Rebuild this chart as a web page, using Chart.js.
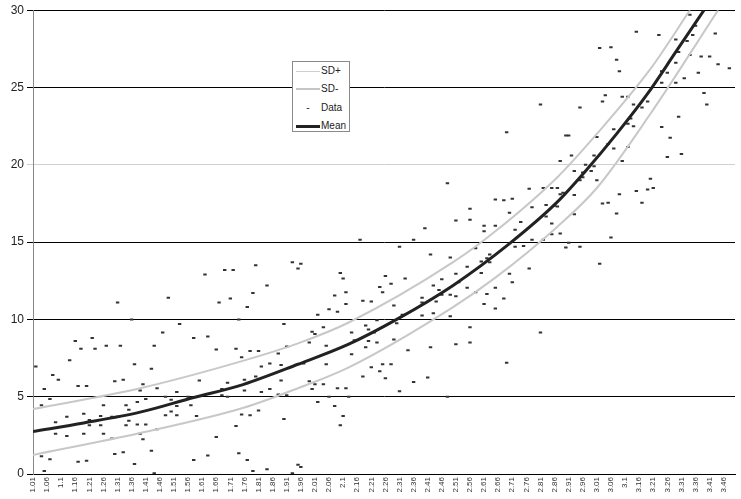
<!DOCTYPE html>
<html>
<head>
<meta charset="utf-8">
<script src="https://cdn.jsdelivr.net/npm/chart.js@4.4.0/dist/chart.umd.min.js"></script>
<style>
  html, body { margin: 0; padding: 0; background: #fff; }
  #wrap { position: relative; width: 741px; height: 499px; }
  #legend { position: absolute; left: 292px; top: 61px; width: 56px; height: 69px;
    border: 1px solid #8a8a8a; background: #fff;
    font: 10px "Liberation Sans", Arial, sans-serif; color: #222; }
  .row { position: absolute; left: 0; width: 56px; height: 12px; line-height: 12px; }
  .sw { position: absolute; left: 3px; width: 24px; top: 6px; }
  .lb { position: absolute; left: 28px; white-space: nowrap; }
</style>
</head>
<body>
<div id="wrap">
  <canvas id="myChart" width="741" height="499"></canvas>
  <div id="legend">
    <div class="row" style="top:3px"><span class="sw" style="border-top:1px solid #cfcfcf"></span><span class="lb">SD+</span></div>
    <div class="row" style="top:21px"><span class="sw" style="border-top:2px solid #c6c6c6;top:5px"></span><span class="lb">SD-</span></div>
    <div class="row" style="top:40px"><span class="sw" style="text-align:center;top:0">-</span><span class="lb">Data</span></div>
    <div class="row" style="top:58px"><span class="sw" style="border-top:3px solid #222;top:5px"></span><span class="lb">Mean</span></div>
  </div>
</div>
<script>
// x axis tick positions and the labels shown under them
const tickValues = [1.01,1.06,1.11,1.16,1.21,1.26,1.31,1.36,1.41,1.46,1.51,1.56,1.61,1.66,1.71,1.76,1.81,1.86,1.91,1.96,
  2.01,2.06,2.11,2.16,2.21,2.26,2.31,2.36,2.41,2.46,2.51,2.56,2.61,2.66,2.71,2.76,2.81,2.86,2.91,2.96,
  3.01,3.06,3.11,3.16,3.21,3.26,3.31,3.36,3.41,3.46];
const tickLabels = ['1.01','1.06','1.1','1.16','1.21','1.26','1.31','1.36','1.41','1.46','1.51','1.56','1.61','1.66','1.71','1.76','1.81','1.86','1.91','1.96',
  '2.01','2.06','2.1','2.16','2.21','2.26','2.31','2.36','2.41','2.46','2.51','2.56','2.61','2.66','2.71','2.76','2.81','2.86','2.91','2.96',
  '3.01','3.06','3.1','3.16','3.21','3.26','3.31','3.36','3.41','3.46'];

// fitted curves
const meanX = [1.01,1.19,1.39,1.58,1.74,1.95,2.13,2.30,2.50,2.70,2.87,2.97,3.08,3.19,3.29,3.39];
const meanY = [2.75,3.3,4.0,4.95,5.7,7.1,8.4,10.0,12.2,14.9,17.6,19.6,22.0,24.6,27.3,30.0];
const sdPlusX = [1.01,1.39,1.76,1.95,2.13,2.50,2.65,2.87,3.01,3.20,3.34];
const sdPlusY = [4.2,5.55,7.35,8.45,9.8,13.7,15.7,19.2,22.0,26.2,30.0];
const sdMinusX = [1.01,1.39,1.76,1.95,2.13,2.50,2.65,2.87,3.01,3.20,3.44];
const sdMinusY = [1.23,2.65,4.3,5.55,6.9,10.8,12.7,16.0,18.5,23.3,30.0];

// scattered observations
const dataX = [
  1.31,1.36,1.16,1.22,1.18,1.23,1.27,1.32,1.14,1.02,1.37,1.08,1.10,1.33,1.30,1.05,1.17,1.20,1.07,1.04,1.26,1.34,1.38,1.35,1.19,1.13,1.25,1.21,1.09,1.31,1.35,1.25,1.38,1.34,1.29,1.21,1.09,1.13,1.19,1.26,1.29,1.04,1.07,1.30,1.33,1.17,1.20,1.37,1.05,
  1.62,1.69,1.72,1.49,1.67,1.71,1.53,1.74,1.47,1.58,1.63,1.44,1.66,1.73,1.75,1.43,1.40,1.45,1.60,1.39,1.52,1.70,1.41,1.48,1.50,1.56,1.68,1.68,1.70,1.57,1.52,1.50,1.48,1.52,1.59,1.75,1.41,1.45,1.73,1.39,1.40,1.66,1.43,1.74,1.58,1.63,1.44,
  1.80,1.93,1.96,1.95,2.10,2.11,1.84,1.79,2.12,2.08,2.12,1.77,2.06,2.09,2.02,1.90,2.04,2.00,2.01,1.78,1.81,1.91,1.88,1.99,2.05,1.82,1.85,1.89,2.05,1.97,1.76,1.80,1.89,1.99,2.01,2.04,1.76,1.82,1.85,1.88,1.91,2.00,2.09,2.12,2.06,2.02,1.78,1.81,1.90,2.08,2.10,1.77,1.79,1.84,1.95,1.96,1.93,
  2.48,2.40,2.17,2.36,2.31,2.42,2.49,2.26,2.33,2.43,2.46,2.24,2.28,2.25,2.45,2.46,2.39,2.49,2.18,2.21,2.29,2.39,2.44,2.39,2.43,2.32,2.19,2.20,2.23,2.30,2.22,2.14,2.15,2.20,2.23,2.29,2.19,2.34,2.42,2.49,2.14,2.25,2.28,2.21,2.24,2.18,2.26,2.41,2.36,2.31,2.13,2.48,2.11,
  2.81,2.69,2.77,2.82,2.85,2.65,2.68,2.71,2.78,2.83,2.56,2.70,2.83,2.56,2.51,2.74,2.85,2.61,2.65,2.61,2.72,2.85,2.78,2.82,2.72,2.75,2.58,2.63,2.62,2.60,2.63,2.55,2.51,2.60,2.70,2.77,2.52,2.55,2.65,2.71,2.58,2.62,2.51,2.68,2.61,2.65,2.56,2.81,2.51,2.56,2.69,
  3.15,3.02,3.06,3.08,3.09,3.04,3.03,3.10,3.12,3.14,3.17,2.95,3.13,3.14,3.12,3.07,2.90,2.91,3.01,3.05,3.12,3.07,2.92,3.00,2.88,3.10,2.97,2.99,2.93,3.00,2.96,2.96,2.95,3.01,3.20,2.87,3.15,3.19,3.09,2.89,2.88,2.93,2.86,2.87,3.03,3.05,3.17,3.08,2.93,2.88,3.06,2.91,2.90,2.95,3.02,
  3.34,3.36,3.43,3.23,3.35,3.29,3.33,3.30,3.34,3.38,3.41,3.29,3.44,3.48,3.24,3.26,3.37,3.32,3.24,3.29,3.39,3.19,3.40,3.30,3.24,3.27,3.31,3.26,3.21
];
const dataY = [
  11.1,10.0,8.6,8.8,8.1,8.1,8.3,8.3,7.35,6.95,7.1,6.4,6.1,6.1,6.0,5.5,5.7,5.7,4.85,4.45,4.45,4.45,4.65,4.15,3.9,3.7,3.75,3.5,3.35,3.7,3.45,3.15,3.2,3.15,3.7,3.15,2.6,2.45,2.6,2.6,2.3,1.15,0.95,1.3,1.4,0.8,0.85,0.65,0.2,
  12.9,13.2,13.2,11.4,11.1,11.35,9.7,10.0,9.15,8.8,8.9,8.3,8.05,8.1,7.55,6.8,5.8,5.55,6.05,5.4,5.3,5.9,4.85,5.0,4.8,5.0,5.5,5.1,5.0,4.45,4.4,4.05,3.8,3.8,3.75,3.85,3.2,2.9,3.1,2.6,2.25,2.4,1.5,1.35,0.9,1.2,0.05,
  13.5,13.7,13.6,13.3,13.0,12.65,12.2,11.7,11.75,11.55,11.0,10.8,10.65,10.5,10.3,9.7,9.5,9.2,9.05,7.95,7.95,8.25,7.8,8.5,8.3,6.95,7.15,7.05,7.1,7.15,6.1,6.3,6.05,6.0,5.8,5.8,5.4,5.3,5.5,5.15,5.1,5.5,5.55,5.55,5.0,4.65,3.8,4.1,3.55,4.4,3.15,0.9,0.2,0.3,0.6,0.45,0.05,
  18.8,15.9,15.15,15.15,14.7,14.2,14.0,12.8,12.65,12.2,12.6,12.1,12.3,11.75,11.9,11.6,11.4,11.6,11.2,11.15,10.9,11.1,11.15,10.25,10.4,10.3,9.6,9.35,9.95,9.75,9.15,9.15,8.65,8.6,8.5,8.7,8.2,8.0,8.2,10.2,7.75,7.1,7.1,6.9,6.65,6.3,6.2,6.25,5.95,5.35,5.0,5.0,3.75,
  23.9,22.1,18.45,18.5,18.5,17.75,17.7,17.8,17.25,17.4,17.15,16.9,16.65,16.45,16.4,16.3,16.2,16.05,16.05,15.7,15.8,15.5,15.15,15.15,14.7,14.75,14.6,14.2,13.95,13.75,13.7,13.4,12.95,13.0,12.95,13.3,12.4,12.05,12.05,12.4,11.75,11.65,11.5,11.35,11.0,10.7,9.5,9.15,8.4,8.5,7.2,
  28.6,27.55,27.6,26.8,26.05,24.5,24.1,24.4,24.4,23.9,23.7,23.7,23.0,22.5,22.65,22.3,21.9,21.9,21.8,21.35,21.15,21.05,20.6,20.6,20.25,20.25,20.0,19.6,19.6,19.9,19.5,19.2,19.0,19.0,19.1,18.5,18.3,18.4,18.1,18.2,18.1,18.05,17.35,17.3,17.5,17.55,17.55,16.85,16.8,15.55,15.3,14.95,14.65,14.7,13.6,
  29.7,29.0,28.5,28.4,28.4,28.1,28.0,27.3,27.1,27.0,27.0,26.6,26.5,26.25,26.05,25.95,25.95,25.6,25.3,25.3,24.65,24.1,23.9,23.1,22.45,21.75,20.7,20.5,18.5
];

const pairs = (xs, ys) => xs.map((x, i) => ({ x: x, y: ys[i] }));

const curve = (label, xs, ys, color, width, order) => ({
  label: label,
  data: pairs(xs, ys),
  showLine: true,
  borderColor: color,
  borderWidth: width,
  pointRadius: 0,
  cubicInterpolationMode: 'monotone',
  order: order
});

const config = {
  type: 'scatter',
  data: {
    datasets: [
      curve('SD+', sdPlusX, sdPlusY, '#c8c8c8', 2, 1),
      curve('SD-', sdMinusX, sdMinusY, '#c8c8c8', 2, 1),
      {
        label: 'Data',
        data: pairs(dataX, dataY),
        pointStyle: 'line',
        pointRadius: 1.7,
        borderColor: '#333',
        borderWidth: 2,
        order: 3
      },
      curve('Mean', meanX, meanY, '#222', 3, 0)
    ]
  },
  options: {
    responsive: false,
    animation: false,
    layout: { padding: { left: 0, right: 0, top: 10, bottom: 0 } },
    plugins: { legend: { display: false }, tooltip: { enabled: false } },
    scales: {
      x: {
        type: 'linear',
        min: 1.01,
        max: 3.5,
        afterBuildTicks: (scale) => { scale.ticks = tickValues.map(v => ({ value: v })); },
        afterFit: (scale) => { scale.height = 25; },
        grid: { drawOnChartArea: false, drawTicks: false },
        border: { color: '#000', width: 1 },
        ticks: {
          autoSkip: false,
          minRotation: 90,
          maxRotation: 90,
          padding: 3,
          color: '#333',
          font: { family: 'Liberation Sans', size: 8 },
          callback: (v, i) => tickLabels[i]
        }
      },
      y: {
        min: 0,
        max: 30,
        afterFit: (scale) => { scale.width = 33; },
        grid: {
          color: (ctx) => ctx.tick && ctx.tick.value === 20 ? '#d0d0d0' : '#000',
          lineWidth: 1,
          tickLength: 6
        },
        border: { color: '#888', width: 1 },
        ticks: {
          stepSize: 5,
          padding: 3,
          color: '#222',
          font: { family: 'Liberation Sans', size: 12 }
        }
      }
    }
  }
};

const myChart = new Chart(document.getElementById('myChart'), config);
</script>
</body>
</html>
